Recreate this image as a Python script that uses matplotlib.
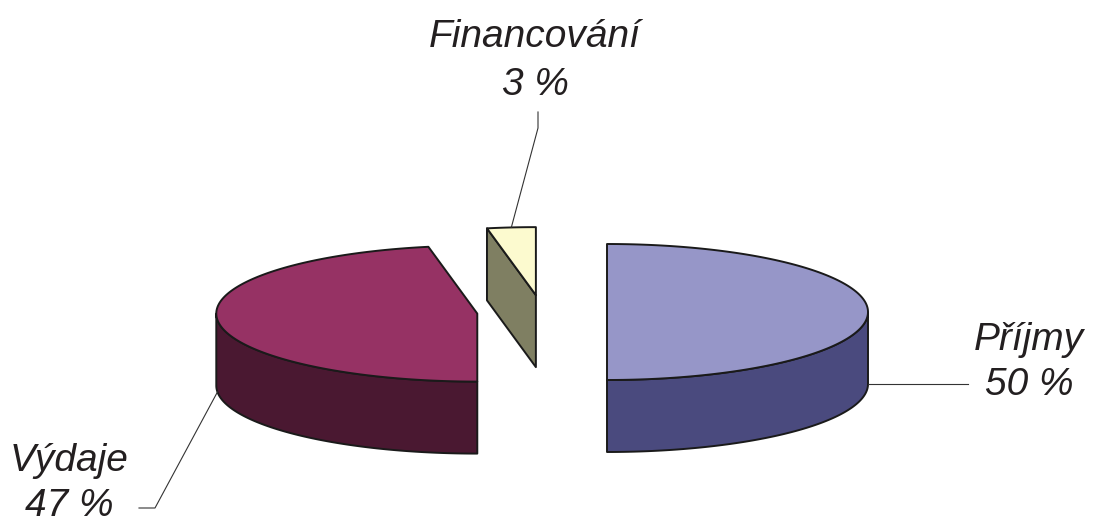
import numpy as np
import matplotlib.pyplot as plt
from matplotlib.patches import Polygon

# data
labels = ['Příjmy', 'Výdaje', 'Financování']
shares = [50, 47, 3]
pct_text = ['50 %', '47 %', '3 %']

# styles
top_colors = ['#9696c8', '#963264', '#fcfacf']
side_colors = ['#4a4a7e', '#4a1831', '#7f7f62']
edge = '#1a1a1a'

W, H = 1093, 526
cx, cy = 542, 312      # pie centre (pixels)
rx, ry = 261, 68       # ellipse radii
depth = 72
explode = 65

# label layout: (x centre, baseline line 1, baseline line 2) and leader bends
label_pos = [(1029, 350, 395), (69, 471, 516), (535, 47, 95)]
leader_pts = [[(968, 384)], [(155, 508), (139, 508)], [(538, 128), (538, 112)]]

fig = plt.figure(figsize=(W / 100, H / 100), dpi=100)
ax = fig.add_axes([0, 0, 1, 1])
ax.set_xlim(0, W)
ax.set_ylim(H, 0)
ax.axis('off')


def pt(x0, y0, th):
    return x0 + rx * np.cos(th), y0 - ry * np.sin(th)


start = 90.0
total = sum(shares)
for i, v in enumerate(shares):
    span = 360.0 * v / total
    t1 = np.radians(start)
    t2 = np.radians(start - span)
    mid = (t1 + t2) / 2
    ox = cx + explode * np.cos(mid)
    oy = cy - explode * np.sin(mid) * ry / rx
    th = np.linspace(t1, t2, 300)
    xs, ys = pt(ox, oy, th)

    # outer wall (front half only)
    front = np.sin(th) <= 1e-9
    if front.sum() > 1:
        fx, fy = xs[front], ys[front]
        poly = np.column_stack([np.r_[fx, fx[::-1]], np.r_[fy, fy[::-1] + depth]])
        ax.add_patch(Polygon(poly, closed=True, fc=side_colors[i], ec=edge, lw=1.4, joinstyle='round'))

    # radial cut faces that face the viewer
    for t, sign in ((t1, -1), (t2, 1)):
        if sign * np.cos(t) > 1e-6:
            px, py = pt(ox, oy, t)
            poly = [(ox, oy), (px, py), (px, py + depth), (ox, oy + depth)]
            ax.add_patch(Polygon(poly, closed=True, fc=side_colors[i], ec=edge, lw=1.4, joinstyle='round'))

    # top face
    poly = np.column_stack([np.r_[ox, xs], np.r_[oy, ys]])
    ax.add_patch(Polygon(poly, closed=True, fc=top_colors[i], ec=edge, lw=1.4, joinstyle='round'))

    # leader line
    lx, ly = pt(ox, oy, mid)
    if np.sin(mid) <= 1e-9:
        ly += depth
    path = [(lx, ly)] + leader_pts[i]
    ax.plot([p[0] for p in path], [p[1] for p in path], color='#333333', lw=0.8)

    # label
    x0, b1, b2 = label_pos[i]
    ax.text(x0, b1, labels[i], ha='center', va='baseline', fontsize=28,
            style='italic', family='Liberation Sans', color='#231f20')
    ax.text(x0, b2, pct_text[i], ha='center', va='baseline', fontsize=28,
            style='italic', family='Liberation Sans', color='#231f20')

    start -= span

fig.savefig('out.png', dpi=100)
